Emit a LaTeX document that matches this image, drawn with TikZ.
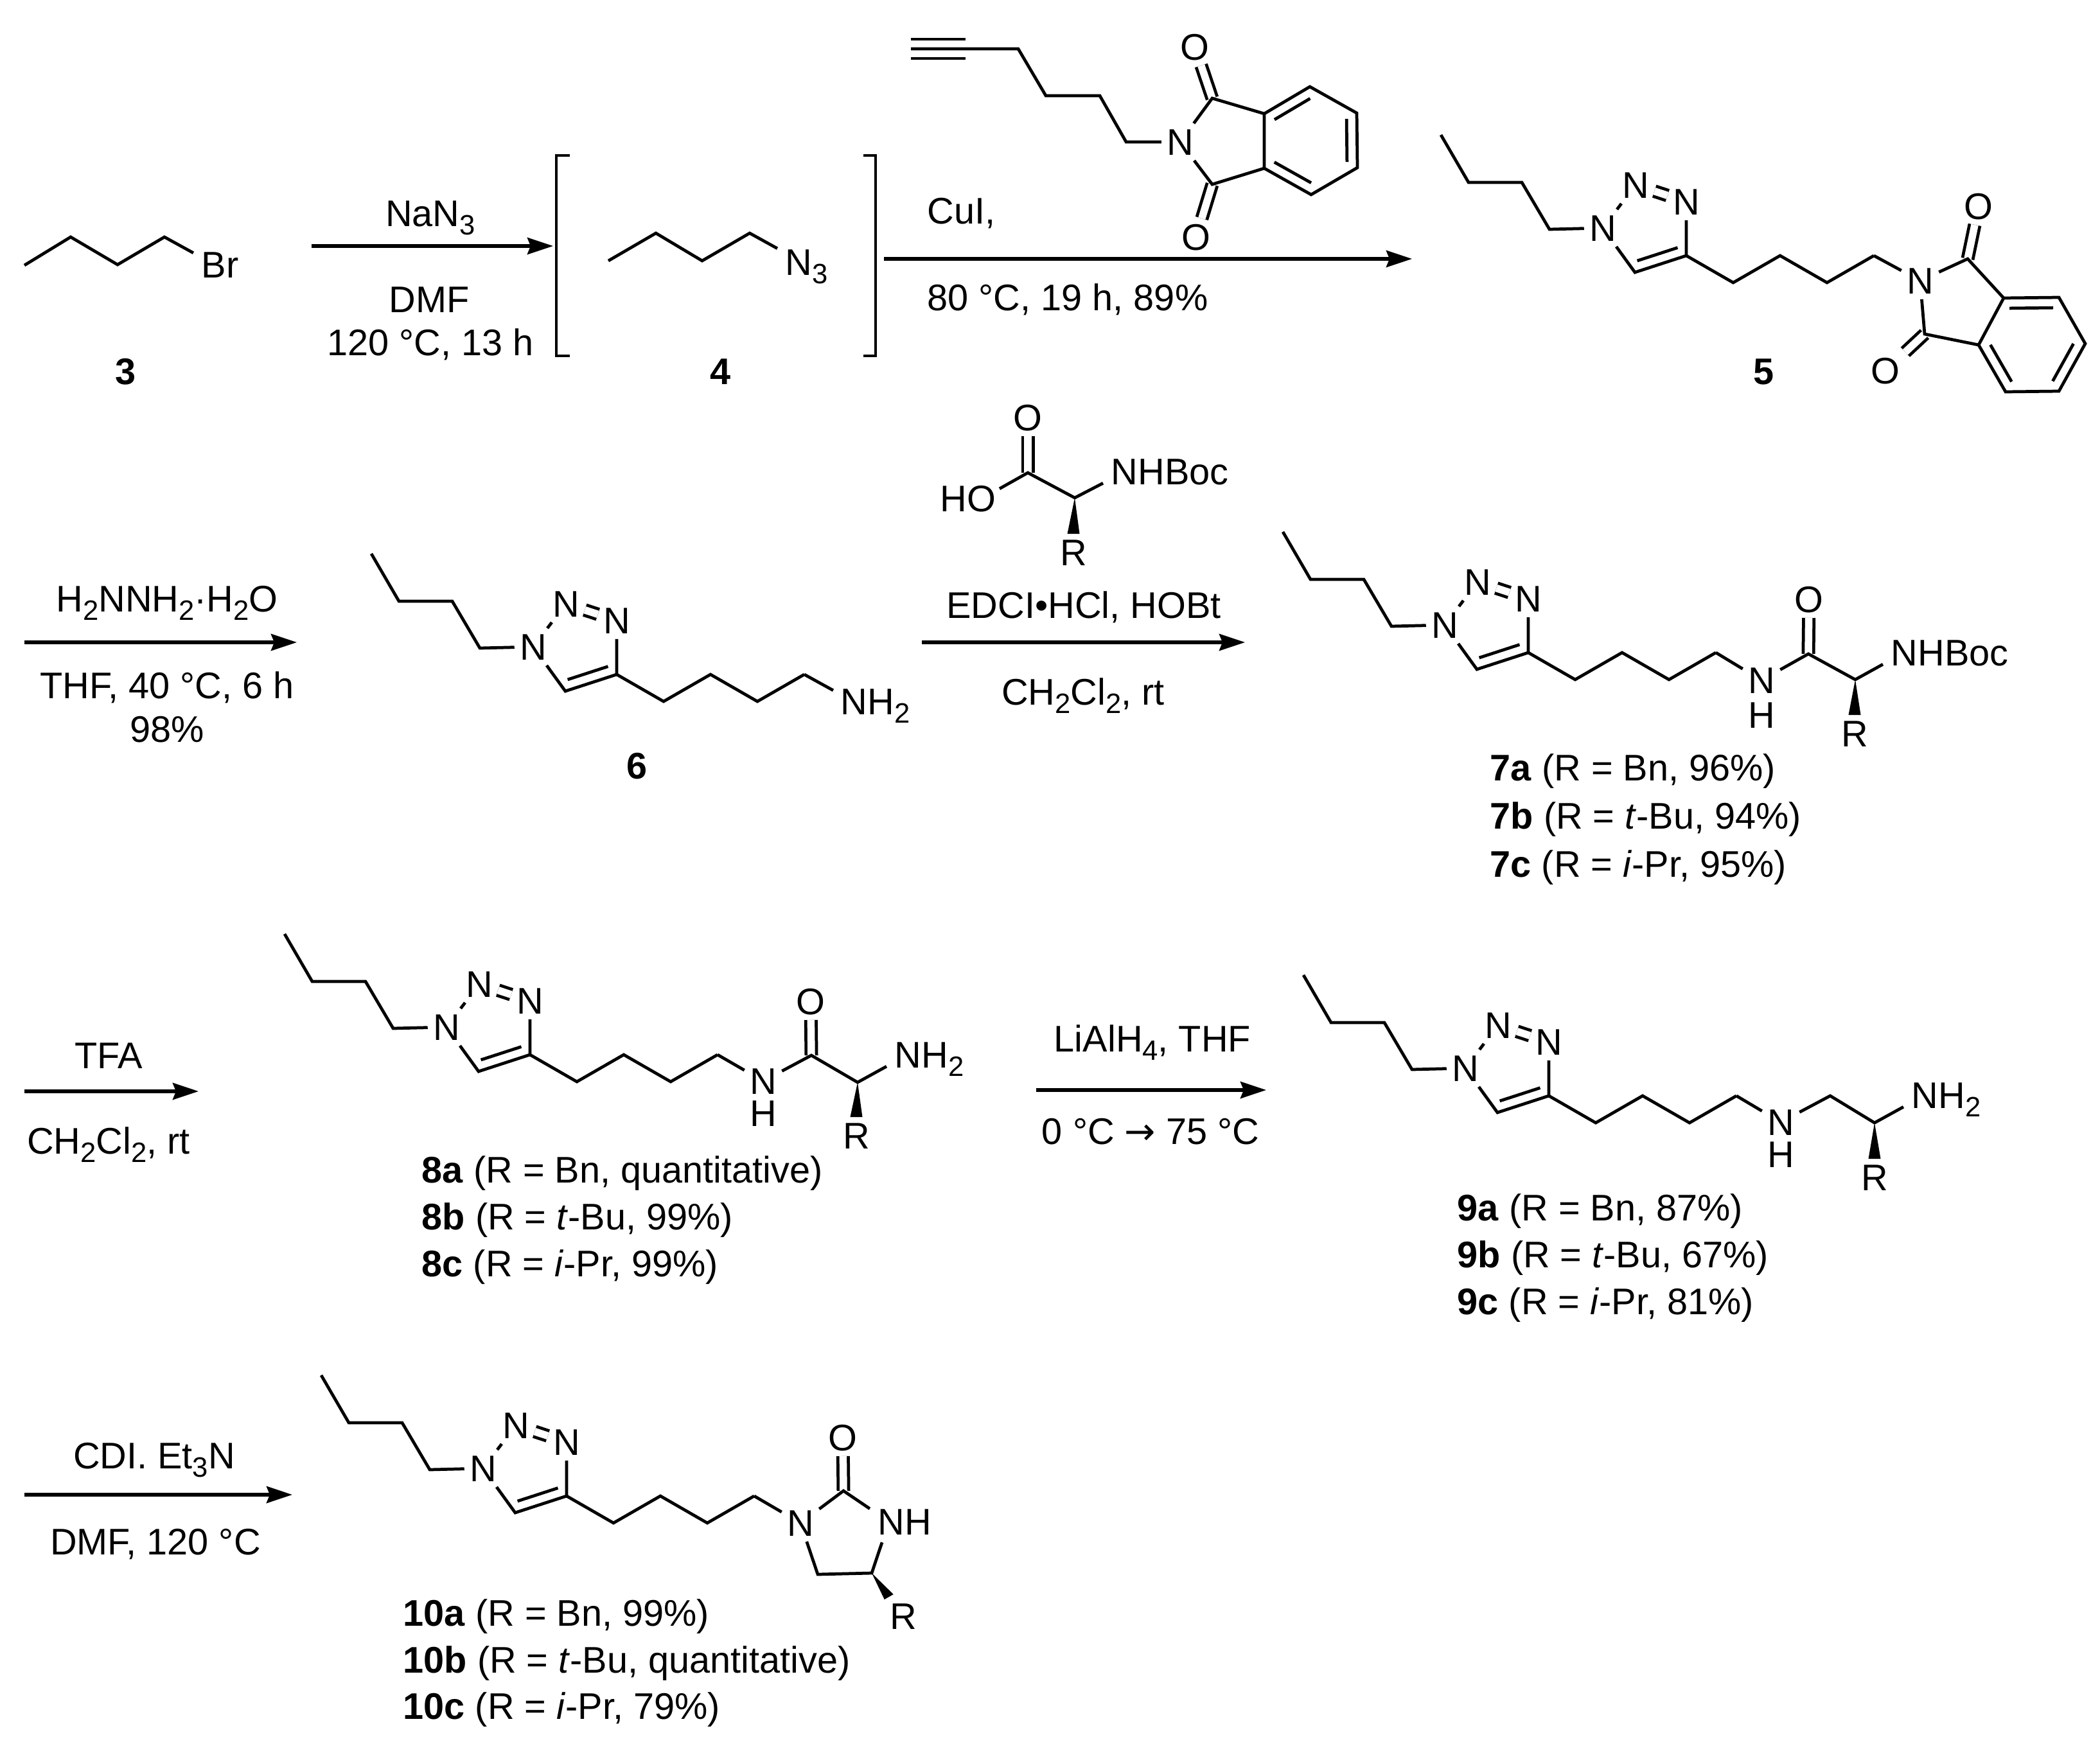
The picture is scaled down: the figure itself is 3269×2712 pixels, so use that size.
\documentclass[tikz,border=0pt]{standalone}
\usepackage{fontspec}
\setmainfont{Liberation Sans}
\newfontfamily\arrowfont{DejaVu Sans}
\usetikzlibrary{arrows.meta,calc}
\tikzset{
    txt/.style={inner sep=0pt, text height=0.41cm, text depth=0pt},
    txtl/.style={txt, anchor=west},
    atom/.style={txt, inner sep=2.2pt},
    bond/.style={line width=1.35pt},
    dbl/.style={bond, double, double distance=0.115cm},
    rxn/.style={line width=1.5pt, -{Stealth[length=0.40cm,width=0.26cm,inset=0.05cm]}},
}
% lowered subscript that leaves the line box alone
\newcommand{\chemsub}[1]{\raisebox{-0.13cm}[0pt][0pt]{\fontsize{12.4}{12}\selectfont #1}}
% second line of a double bond, on the left of the way from #1 to #2
\newcommand{\innerbond}[2]{\draw[bond, shorten <=0.09cm, shorten >=0.09cm]
    ($(#1)!0.16cm!-90:(#2)$) -- ($(#2)!0.16cm!90:(#1)$);}
% solid wedge from #1 to the top of the atom #2
\newcommand{\wedgebond}[2]{\fill (#1) -- ([xshift=-0.095cm]#2.north) -- ([xshift=0.095cm]#2.north) -- cycle;}
% butyl triazole with its four-carbon chain, ring carbon at (#1,#2)
\newcommand{\buttriazole}[2]{
    \begin{scope}[shift={(#1,#2)}]
        \coordinate (tail) at (-382,-188);
        \coordinate (bu1) at (-339,-114);
        \coordinate (bu2) at (-256,-114);
        \coordinate (bu3) at (-213,-41);
        \node[atom] (n1) at (-130,-43) {N};
        \node[atom] (n2) at (-79,-110) {N};
        \node[atom] (n3) at (0,-84) {N};
        \coordinate (c4) at (0,0);
        \coordinate (c5) at (-80,26);
        \coordinate (ch1) at (73,42);
        \coordinate (ch2) at (146,0);
        \coordinate (ch3) at (219,42);
        \coordinate (ch4) at (292,0);
        \draw[dbl] (n2) -- (n3);
        \draw[bond] (tail) -- (bu1) -- (bu2) -- (bu3) -- (n1);
        \draw[bond] (n1) -- (n2);
        \draw[bond] (n1) -- (c5) -- (c4) -- (n3);
        \innerbond{c5}{c4}
        \draw[bond] (c4) -- (ch1) -- (ch2) -- (ch3) -- (ch4);
    \end{scope}
}
\begin{document}
\begin{tikzpicture}[x=0.01cm, y=0.01cm, yscale=-1, font=\fontsize{16.4}{19}\selectfont]
    \useasboundingbox (0, 0) rectangle (3269, 2712);
    % reaction arrows
    \foreach \i/\xa/\xb/\yy in {1/485/861/383, 2/1376/2198/403, 3/38/462/1000, 4/1435/1938/1000,
        5/38/309/1699, 6/1613/1971/1697, 7/38/455/2327} {
        \coordinate (s\i) at (\xa, \yy);
        \coordinate (t\i) at (\xb, \yy);
        \draw[rxn] (s\i) -- (t\i);
    }

    % bromide 3
    \coordinate (br1) at (38, 413);
    \coordinate (br2) at (110, 369);
    \coordinate (br3) at (183, 412);
    \coordinate (br4) at (256, 369);
    \node[txtl] (brom) at (313, 412) {Br};
    \draw[bond] (br1) -- (br2) -- (br3) -- (br4) -- ([shift={(-12,3)}]brom.north west);
    \node[txt] (lab3) at (196, 578) {\textbf{3}};

    % conditions to 4
    \node[txt] (nan3) at (670, 332) {NaN\chemsub{3}};
    \node[txt] (dmf) at (668, 466) {DMF};
    \node[txt] (temp1) at (670, 533) {120 °C, 13 h};

    % azide 4 in brackets
    \draw[bond] (887, 242) -- (866, 242) -- (866, 554) -- (887, 554);
    \draw[bond] (1344, 242) -- (1363, 242) -- (1363, 554) -- (1344, 554);
    \coordinate (az1) at (947, 406);
    \coordinate (az2) at (1021, 363);
    \coordinate (az3) at (1093, 406);
    \coordinate (az4) at (1167, 363);
    \node[txtl] (azn) at (1222, 408) {N\chemsub{3}};
    \draw[bond] (az1) -- (az2) -- (az3) -- (az4) -- ([shift={(-12,0)}]azn.north west);
    \node[txt] (lab4) at (1122, 578) {\textbf{4}};

    % alkyne reagent
    \coordinate (alk1) at (1418, 76);
    \coordinate (alk2) at (1585, 76);
    \coordinate (alk3) at (1628, 149);
    \coordinate (alk4) at (1712, 149);
    \coordinate (alk5) at (1753, 221);
    \coordinate (ta1) at (1418, 61);
    \coordinate (tb1) at (1503, 61);
    \coordinate (ta2) at (1418, 91);
    \coordinate (tb2) at (1503, 91);
    \node[atom] (imn) at (1837, 221) {N};
    \node[atom] (imo1) at (1860, 73) {O};
    \node[atom] (imo2) at (1862, 369) {O};
    \coordinate (imc1) at (1887, 153);
    \coordinate (imc2) at (1887, 287);
    \coordinate (r1) at (1968, 177);
    \coordinate (r2) at (2039, 135);
    \coordinate (r3) at (2112, 176);
    \coordinate (r4) at (2113, 261);
    \coordinate (r5) at (2041, 303);
    \coordinate (r6) at (1968, 262);
    \draw[bond] (ta1) -- (tb1);
    \draw[bond] (ta2) -- (tb2);
    \draw[dbl] (imc1) -- (imo1);
    \draw[dbl] (imc2) -- (imo2);
    \draw[bond] (alk1) -- (alk2) -- (alk3) -- (alk4) -- (alk5) -- (imn);
    \draw[bond] (imn) -- (imc1) -- (r1);
    \draw[bond] (imn) -- (imc2) -- (r6);
    \draw[bond] (r1) -- (r2) -- (r3) -- (r4) -- (r5) -- (r6) -- cycle;
    \innerbond{r2}{r1}
    \innerbond{r4}{r3}
    \innerbond{r6}{r5}
    \node[txtl] (cui) at (1443, 328) {CuI,};
    \node[txtl] (temp2) at (1443, 463) {80 °C, 19 h, 89\%};

    % phthalimide 5
    \buttriazole{2625}{398}
    \node[atom] (phn) at (2989, 437) {N};
    \node[atom] (pho1) at (3080, 321) {O};
    \node[atom] (pho2) at (2935, 577) {O};
    \coordinate (phc1) at (3063, 403);
    \coordinate (phc2) at (2996, 520);
    \coordinate (p1) at (3119, 464);
    \coordinate (p2) at (3205, 463);
    \coordinate (p3) at (3246, 535);
    \coordinate (p4) at (3205, 609);
    \coordinate (p5) at (3122, 610);
    \coordinate (p6) at (3080, 537);
    \draw[dbl] (phc1) -- (pho1);
    \draw[dbl] (phc2) -- (pho2);
    \draw[bond] (ch4) -- (phn);
    \draw[bond] (phn) -- (phc1) -- (p1);
    \draw[bond] (phn) -- (phc2) -- (p6);
    \draw[bond] (p1) -- (p2) -- (p3) -- (p4) -- (p5) -- (p6) -- cycle;
    \innerbond{p2}{p1}
    \innerbond{p4}{p3}
    \innerbond{p6}{p5}
    \node[txt] (lab5) at (2746, 578) {\textbf{5}};

    % conditions to 6
    \node[txt] (hyd) at (260, 932) {H\chemsub{2}NNH\chemsub{2}·H\chemsub{2}O};
    \node[txt] (thf1) at (260, 1067) {THF, 40 °C, 6 h};
    \node[txt] (yld1) at (260, 1135) {98\%};

    % amine 6
    \buttriazole{960}{1050}
    \node[txtl] (am6) at (1308, 1092) {NH\chemsub{2}};
    \draw[bond] (ch4) -- ([shift={(-11,4)}]am6.north west);
    \node[txt] (lab6) at (992, 1192) {\textbf{6}};

    % Boc amino acid reagent
    \node[atom] (aao) at (1600, 650) {O};
    \node[txt] (aaho) at (1507, 776) {HO};
    \node[txtl] (aanh) at (1729, 734) {NHBoc};
    \node[atom] (aar) at (1671, 860) {R};
    \coordinate (aac) at (1600, 736);
    \coordinate (aaca) at (1673, 775);
    \draw[dbl] (aac) -- (aao);
    \draw[bond] ([shift={(5,6)}]aaho.north east) -- (aac) -- (aaca) -- ([shift={(-12,-3)}]aanh.south west);
    \wedgebond{aaca}{aar}
    \node[txt] (edci) at (1687, 942) {EDCI•HCl, HOBt};
    \node[txt] (dcm1) at (1686, 1077) {CH\chemsub{2}Cl\chemsub{2}, rt};

    % amide 7
    \buttriazole{2379}{1016}
    \node[atom] (n7) at (2742, 1059) {N};
    \node[txt] (h7) at (2742, 1113) {H};
    \node[atom] (o7) at (2816, 933) {O};
    \node[txtl] (nh7) at (2943, 1016) {NHBoc};
    \node[atom] (r7) at (2887, 1142) {R};
    \coordinate (co7) at (2815, 1018);
    \coordinate (ca7) at (2888, 1058);
    \draw[dbl] (co7) -- (o7);
    \draw[bond] (ch4) -- (n7);
    \draw[bond] (n7) -- (co7) -- (ca7) -- ([shift={(-12,-3)}]nh7.south west);
    \wedgebond{ca7}{r7}
    \node[txtl] (l7a) at (2319, 1195) {\textbf{7a} (R = Bn, 96\%)};
    \node[txtl] (l7b) at (2319, 1270) {\textbf{7b} (R = \textit{t}-Bu, 94\%)};
    \node[txtl] (l7c) at (2319, 1345) {\textbf{7c} (R = \textit{i}-Pr, 95\%)};

    % conditions to 8
    \node[txt] (tfa) at (169, 1643) {TFA};
    \node[txt] (dcm2) at (169, 1776) {CH\chemsub{2}Cl\chemsub{2}, rt};

    % free amine 8
    \buttriazole{825}{1642}
    \node[atom] (n8) at (1188, 1683) {N};
    \node[txt] (h8) at (1188, 1733) {H};
    \node[atom] (o8) at (1262, 1559) {O};
    \node[txtl] (nh8) at (1392, 1642) {NH\chemsub{2}};
    \node[atom] (r8) at (1333, 1768) {R};
    \coordinate (co8) at (1263, 1643);
    \coordinate (ca8) at (1335, 1685);
    \draw[dbl] (co8) -- (o8);
    \draw[bond] (ch4) -- (n8);
    \draw[bond] (n8) -- (co8) -- (ca8) -- ([shift={(-12,-3)}]nh8.south west);
    \wedgebond{ca8}{r8}
    \node[txtl] (l8a) at (656, 1821) {\textbf{8a} (R = Bn, quantitative)};
    \node[txtl] (l8b) at (656, 1894) {\textbf{8b} (R = \textit{t}-Bu, 99\%)};
    \node[txtl] (l8c) at (656, 1967) {\textbf{8c} (R = \textit{i}-Pr, 99\%)};

    % conditions to 9
    \node[txt] (lah) at (1794, 1617) {LiAlH\chemsub{4}, THF};
    \node[txt] (temp3) at (1791, 1761) {0 °C {\arrowfont →} 75 °C};

    % diamine 9
    \buttriazole{2411}{1706}
    \node[atom] (n9) at (2772, 1747) {N};
    \node[txt] (h9) at (2772, 1797) {H};
    \node[txtl] (nh9) at (2975, 1705) {NH\chemsub{2}};
    \node[atom] (r9) at (2918, 1833) {R};
    \coordinate (ce9) at (2849, 1706);
    \coordinate (ca9) at (2918, 1748);
    \draw[bond] (ch4) -- (n9);
    \draw[bond] (n9) -- (ce9) -- (ca9) -- ([shift={(-12,-3)}]nh9.south west);
    \wedgebond{ca9}{r9}
    \node[txtl] (l9a) at (2268, 1880) {\textbf{9a} (R = Bn, 87\%)};
    \node[txtl] (l9b) at (2268, 1953) {\textbf{9b} (R = \textit{t}-Bu, 67\%)};
    \node[txtl] (l9c) at (2268, 2026) {\textbf{9c} (R = \textit{i}-Pr, 81\%)};

    % conditions to 10
    \node[txt] (cdi) at (240, 2266) {CDI. Et\chemsub{3}N};
    \node[txt] (dmf2) at (242, 2400) {DMF, 120 °C};

    % imidazolidinone 10
    \buttriazole{882}{2329}
    \node[atom] (n10) at (1246, 2371) {N};
    \node[atom] (o10) at (1312, 2238) {O};
    \node[txtl] (nh10) at (1366, 2369) {NH};
    \node[atom] (r10) at (1406, 2516) {R};
    \coordinate (co10) at (1313, 2321);
    \coordinate (cb10) at (1273, 2451);
    \coordinate (ca10) at (1357, 2449);
    \draw[dbl] (co10) -- (o10);
    \draw[bond] (ch4) -- (n10);
    \draw[bond] (n10) -- (co10) -- ([shift={(-12,1)}]nh10.north west);
    \draw[bond] (n10) -- (cb10) -- (ca10) -- ([shift={(7,11)}]nh10.south west);
    \fill (ca10) -- ([shift={(0,3)}]r10.north west) -- ([shift={(14,-5)}]r10.north west) -- cycle;
    \node[txtl] (l10a) at (627, 2511) {\textbf{10a} (R = Bn, 99\%)};
    \node[txtl] (l10b) at (627, 2584) {\textbf{10b} (R = \textit{t}-Bu, quantitative)};
    \node[txtl] (l10c) at (627, 2656) {\textbf{10c} (R = \textit{i}-Pr, 79\%)};
\end{tikzpicture}
\end{document}
